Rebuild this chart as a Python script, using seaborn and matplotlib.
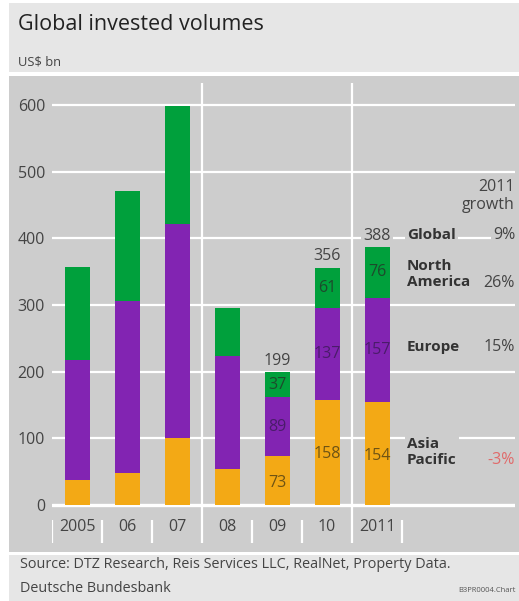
import matplotlib
matplotlib.use("Agg")
import matplotlib.pyplot as plt
from matplotlib.patches import Rectangle
import seaborn as sns
import pandas as pd

# ---- data (US$ bn) ----
years = ["2005", "06", "07", "08", "09", "10", "2011"]
asia_pacific = [38, 48, 100, 54, 73, 158, 154]
europe = [180, 258, 322, 169, 89, 137, 157]
north_america = [139, 165, 176, 72, 37, 61, 76]
total_labels = {"09": "199", "10": "356", "2011": "388"}
labelled_years = ["09", "10", "2011"]

regions = ["Global", "North\nAmerica", "Europe", "Asia\nPacific"]
growth_2011 = ["9%", "26%", "15%", "-3%"]
yticks = [0, 100, 200, 300, 400, 500, 600]

# ---- styling ----
GREEN = "#00a03c"
PURPLE = "#8224b2"
YELLOW = "#f3a915"
PANEL = "#cdcdcd"
HEADER = "#e6e6e6"
TXT = "#444444"
DARK_ON = {"green": "#1d4a2c", "purple": "#4a1c6a", "yellow": "#6e5314"}

sns.set_theme(style="white")
plt.rcParams["font.family"] = ["Open Sans", "DejaVu Sans"]

W, H = 519, 601
fig = plt.figure(figsize=(W / 100, H / 100), dpi=100)
fig.patch.set_facecolor("white")

def fx(px):
    return px / W

def fy(py):
    return 1 - py / H

# background blocks: header, chart panel, footer
fig.add_artist(Rectangle((fx(9), fy(72)), fx(510), 69 / H, transform=fig.transFigure,
                         facecolor=HEADER, edgecolor="none", zorder=0))
fig.add_artist(Rectangle((fx(9), fy(552)), fx(510), 476 / H, transform=fig.transFigure,
                         facecolor=PANEL, edgecolor="none", zorder=0))
fig.add_artist(Rectangle((fx(9), fy(601)), fx(510), 46 / H, transform=fig.transFigure,
                         facecolor=HEADER, edgecolor="none", zorder=0))

# axes: bar centres 50 px apart, first centre at x=77 px; 0 at y=505 px, 600 at y=105 px
ax_left, ax_right = 52, 515
ax_top, ax_bot = 80, 548
ax = fig.add_axes([fx(ax_left), fy(ax_bot), fx(ax_right - ax_left), (ax_bot - ax_top) / H])
ax.set_facecolor("none")

df = pd.DataFrame({"year": years, "asia": asia_pacific, "europe": europe, "na": north_america})
df["top_eu"] = df["asia"] + df["europe"]
df["top_na"] = df["top_eu"] + df["na"]

for col, colr in [("top_na", GREEN), ("top_eu", PURPLE), ("asia", YELLOW)]:
    sns.barplot(data=df, x="year", y=col, order=years, color=colr, width=0.5,
                saturation=1, linewidth=0, ax=ax, zorder=3)

px_per_unit = 400 / 600
ax.set_ylim((505 - ax_bot) / px_per_unit, (505 - ax_top) / px_per_unit)
ax.set_xlim(-0.5, (ax_right - 77) / 50)
ax.set_xlabel("")
ax.set_ylabel("")
ax.set_xticks([])
ax.set_yticks(yticks)
ax.set_yticklabels([str(t) for t in yticks])
ax.tick_params(axis="y", length=0, pad=5, labelsize=11.5, labelcolor=TXT)
for s in ax.spines.values():
    s.set_visible(False)

# white grid lines
for t in yticks:
    ax.axhline(t, color="white", lw=2.4 if t == 0 else 1.6, zorder=1)

# separators: full-height between period groups, short ones between year labels
for xs in [2.5, 5.5]:
    ax.plot([xs, xs], [-57, 633], color="white", lw=1.6, zorder=1, solid_capstyle="butt")
for xs in [-0.5, 0.5, 1.5, 3.5, 4.5, 6.5]:
    ax.plot([xs, xs], [-22, -57], color="white", lw=1.6, zorder=1, solid_capstyle="butt")

# year labels
for i, y in enumerate(years):
    ax.text(i, -33, y, ha="center", va="center", fontsize=11.5, color=TXT, zorder=5)

# segment and total labels
box = dict(facecolor=PANEL, edgecolor="none", pad=1.5)
for i, y in enumerate(years):
    if y not in labelled_years:
        continue
    a, e, n = asia_pacific[i], europe[i], north_america[i]
    ax.text(i, a / 2 - 3, str(a), ha="center", va="center", fontsize=11.5,
            color=DARK_ON["yellow"], zorder=5)
    ax.text(i, a + e / 2, str(e), ha="center", va="center", fontsize=11.5,
            color=DARK_ON["purple"], zorder=5)
    ax.text(i, a + e + n / 2, str(n), ha="center", va="center", fontsize=11.5,
            color=DARK_ON["green"], zorder=5)
    ax.text(i, a + e + n + 17, total_labels[y], ha="center", va="center",
            fontsize=11.5, color=TXT, zorder=5, bbox=box)

# region legend with 2011 growth
x_name = (407 - 77) / 50
x_pct = (ax_right - 77) / 50
ax.text(x_pct, 463, "2011\ngrowth", ha="right", va="center", fontsize=11.5,
        color=TXT, linespacing=1.15, zorder=5, bbox=box)
name_y = [405, 347, 237, 80]
pct_y = [405, 333, 237, 67]
for r, g, ny, py in zip(regions, growth_2011, name_y, pct_y):
    ax.text(x_name, ny, r, ha="left", va="center", fontsize=11, fontweight="bold",
            color="#333333", linespacing=1.2, zorder=5, bbox=box)
    ax.text(x_pct, py, g, ha="right", va="center", fontsize=11.5,
            color="#e06a6a" if g.startswith("-") else TXT, zorder=5, bbox=box)

# header and footer text
fig.text(fx(18), fy(30), "Global invested volumes", fontsize=15.5, color="#222222",
         ha="left", va="baseline")
fig.text(fx(18), fy(65), "US$ bn", fontsize=9.3, color=TXT, ha="left", va="baseline")
fig.text(fx(20), fy(568), "Source: DTZ Research, Reis Services LLC, RealNet, Property Data.",
         fontsize=10.4, color=TXT, ha="left", va="baseline")
fig.text(fx(20), fy(592), "Deutsche Bundesbank", fontsize=10.4, color=TXT,
         ha="left", va="baseline")
fig.text(fx(516), fy(592), "B3PR0004.Chart", fontsize=5.5, color="#555555",
         ha="right", va="baseline")

fig.savefig("out.png", dpi=100, facecolor=fig.get_facecolor())
